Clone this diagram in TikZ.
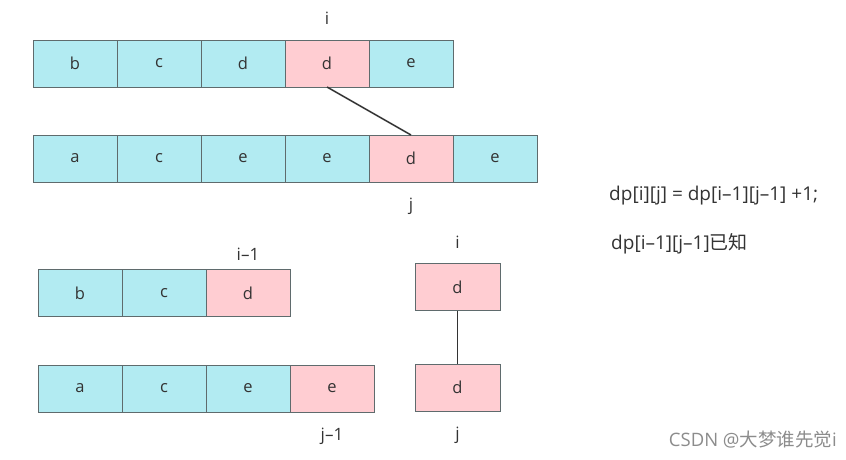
\documentclass[tikz,border=0pt]{standalone}
\usepackage{fontspec}
\setmainfont{Open Sans}
\newfontfamily\cjk{Noto Sans CJK SC}
\usetikzlibrary{positioning}
\definecolor{cellcyan}{HTML}{B2EBF2}
\definecolor{cellpink}{HTML}{FFCDD2}
\definecolor{cellline}{HTML}{5F6B6D}
\definecolor{inktext}{HTML}{333333}

\begin{document}
\begin{tikzpicture}[
        x=1pt, y=-1pt,
        node distance=0pt,
        cell/.style={draw=cellline, line width=0.9pt, minimum width=84pt, minimum height=47pt, inner sep=0pt, outer sep=0pt, text=inktext, font=\fontsize{16.5}{18}\selectfont},
        cy/.style={cell, fill=cellcyan},
        pk/.style={cell, fill=cellpink},
        idx/.style={text=inktext, inner sep=0pt, font=\fontsize{17}{19}\selectfont},
        formula/.style={text=inktext, inner sep=0pt, anchor=west, font=\fontsize{19}{21}\selectfont},
        link/.style={draw=inktext, line width=1.5pt},
    ]
        \useasboundingbox (0,0) rectangle (846,459);
        % first pair of strings
        \node[cy] (ab) at (75,63.5) {b};
        \node[cy, right=of ab] (ac) {c};
        \node[cy, right=of ac] (ad) {d};
        \node[pk, right=of ad] (ai) {d};
        \node[cy, right=of ai] (ae) {e};
        \node[cy] (ba) at (75,158.5) {a};
        \node[cy, right=of ba] (bc) {c};
        \node[cy, right=of bc] (be) {e};
        \node[cy, right=of be] (bf) {e};
        \node[pk, right=of bf] (bj) {d};
        \node[cy, right=of bj] (bg) {e};
        \node[idx, above=15pt of ai] (li) {i};
        \node[idx, below=16pt of bj] (lj) {j};
        \draw[link] (ai.south) -- (bj.north);
        % shorter prefixes
        \node[cy] (cb) at (80,293) {b};
        \node[cy, right=of cb] (cc) {c};
        \node[pk, right=of cc] (ci) {d};
        \node[cy] (da) at (80,388.5) {a};
        \node[cy, right=of da] (dc) {c};
        \node[cy, right=of dc] (de) {e};
        \node[pk, right=of de] (dj) {e};
        \node[idx, above=9pt of ci] (lci) {i–1};
        \node[idx, below=16pt of dj] (ldj) {j–1};
        % matching characters
        \node[pk, minimum width=85pt] (ei) at (457.5,287) {d};
        \node[pk, minimum width=85pt] (ej) at (457.5,387.5) {d};
        \node[idx, above=15pt of ei] (lei) {i};
        \node[idx, below=16pt of ej] (lej) {j};
        \draw[link] (ei.south) -- (ej.north);
        % recurrence
        \node[formula] (f1) at (609,196) {dp[i][j] = dp[i–1][j–1] +1;};
        \node[formula] (f2) at (611,244) {dp[i–1][j–1]{\cjk 已知}};
        \node[text=black!45, inner sep=0pt, anchor=east, font=\fontsize{18.5}{20}\selectfont] (mark) at (837,440) {CSDN @{\cjk 大梦谁先觉}i};
    \end{tikzpicture}
\end{document}
